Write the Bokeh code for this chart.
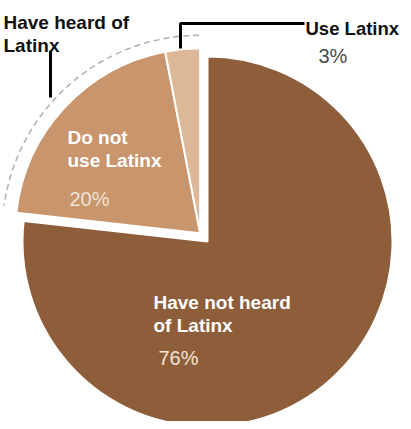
import math
from bokeh.plotting import figure
from bokeh.models import Range1d
from bokeh.core.properties import value
from bokeh.embed import file_html
from bokeh.resources import INLINE

# ---- data ----
categories = ["Have not heard of Latinx", "Do not use Latinx", "Use Latinx"]
shares = [76, 20, 3]
pct_labels = ["76%", "20%", "3%"]
label_lines = [["Have not heard", "of Latinx"], ["Do not", "use Latinx"], ["Use Latinx"]]
colors = ["#8e5d3a", "#c8956c", "#ddb898"]
exploded = [False, True, True]
group_lines = ["Have heard of", "Latinx"]

# ---- layout (data units == canvas pixels; y is negated) ----
W, H = 403, 421
p = figure(width=W, height=H, x_range=Range1d(0, W), y_range=Range1d(-H, 0),
           output_backend="svg", toolbar_location=None, min_border=0,
           x_axis_type=None, y_axis_type=None)
p.grid.visible = False
p.outline_line_color = None
p.background_fill_color = "white"
p.border_fill_color = "white"

CX, CY = 207.0, -241.0
R = 185.0
EXPLODE = 11.0

total = float(sum(shares))
cum = 0.0
starts, ends = [], []
for s in shares:
    a0 = math.pi / 2 - 2 * math.pi * cum / total
    a1 = math.pi / 2 - 2 * math.pi * (cum + s) / total
    starts.append(a0)
    ends.append(a1)
    cum += s

# exploded group geometry
g_idx = [i for i, e in enumerate(exploded) if e]
g_start = starts[g_idx[0]]
g_end = ends[g_idx[-1]]
g_mid = (g_start + g_end) / 2
EX = CX + EXPLODE * math.cos(g_mid)
EY = CY + EXPLODE * math.sin(g_mid)

for i in range(len(shares)):
    cx, cy = (EX, EY) if exploded[i] else (CX, CY)
    p.wedge(x=cx, y=cy, radius=R, start_angle=ends[i], end_angle=starts[i],
            direction="anticlock", fill_color=colors[i], line_color="white", line_width=2)

# dashed arc around the exploded group
arc_a0 = g_end + 2 * math.pi + 0.005  # near top
arc_a1 = g_start + 2 * math.pi - 0.03  # near left
p.arc(x=EX, y=EY, radius=198, start_angle=arc_a0, end_angle=arc_a1, direction="anticlock",
      line_color="#b3b3b3", line_width=1.6, line_dash="6 4")

# callout lines
p.line(x=[50, 50], y=[-50, -97], line_color="black", line_width=3)
p.line(x=[180, 180, 304], y=[-48, -23, -23], line_color="black", line_width=3)

FONT = value("Liberation Sans")

def txt(x, y, t, size, color, style="bold"):
    p.text(x=[x], y=[-y], text=[t], text_font=FONT, text_font_size=size,
           text_font_style=style, text_color=color, text_baseline="alphabetic", text_align="left")

# group label
txt(3, 22, group_lines[0], "19px", "#111111")
txt(3, 45, group_lines[1], "19px", "#111111")

# slice 0 (inside)
txt(153, 302, label_lines[0][0], "19px", "white")
txt(153, 325, label_lines[0][1], "19px", "white")
txt(158, 357, pct_labels[0], "20px", "#f3e3d3", "normal")

# slice 1 (inside)
txt(67, 137, label_lines[1][0], "19px", "white")
txt(67, 160, label_lines[1][1], "19px", "white")
txt(69, 198, pct_labels[1], "20px", "#f3e3d3", "normal")

# slice 2 (outside callout)
txt(305, 28, label_lines[2][0], "18.5px", "#111111")
txt(318, 55, pct_labels[2], "20px", "#4a4a4a", "normal")

open("out.html", "w").write(file_html(p, INLINE))
